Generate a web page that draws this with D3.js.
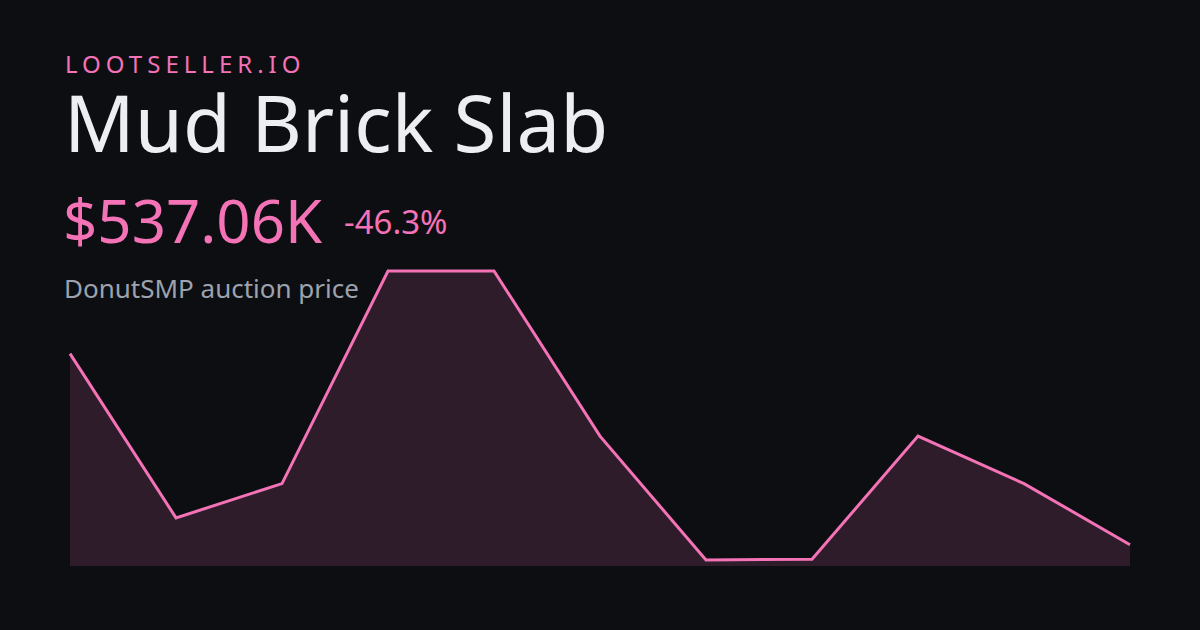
<!DOCTYPE html>
<html><head><meta charset="utf-8">
<script src="https://cdn.jsdelivr.net/npm/d3@7"></script>
<style>html,body{margin:0;padding:0;background:#0d0e12;}svg{display:block;}</style>
</head><body>
<svg id="c" width="1200" height="630"></svg>
<script>
const brand = "LOOTSELLER.IO";
const itemName = "Mud Brick Slab";
const priceLabel = "$537.06K";
const changeLabel = "-46.3%";
const subtitle = "DonutSMP auction price";
const days = [0,1,2,3,4,5,6,7,8,9,10];
const prices = [1000, 602, 685, 1200, 1200, 800, 500, 502, 800, 685, 537.06];

const svg = d3.select("#c");
const W = 1200, H = 630;
svg.append("rect").attr("width", W).attr("height", H).attr("fill", "#0d0e12");

const x = d3.scaleLinear().domain(d3.extent(days)).range([70, 1130]);
const y = d3.scaleLinear().domain([500, 1200]).range([560, 271]);
const base = 566;
const data = days.map((d, i) => ({d, v: prices[i]}));

svg.append("path").datum(data)
  .attr("d", d3.area().x(p => x(p.d)).y0(base).y1(p => y(p.v)))
  .attr("fill", "#f472b6").attr("fill-opacity", 0.15);
svg.append("path").datum(data)
  .attr("d", d3.line().x(p => x(p.d)).y(p => y(p.v)))
  .attr("fill", "none").attr("stroke", "#f472b6").attr("stroke-width", 3)
  .attr("stroke-linejoin", "miter");

const font = "'Noto Sans', 'Open Sans', sans-serif";
svg.append("text").attr("x", 65).attr("y", 73).text(brand)
  .attr("font-family", font).attr("font-size", 24).attr("letter-spacing", 5)
  .attr("fill", "#f472b6");
svg.append("text").attr("x", 64).attr("y", 152).text(itemName)
  .attr("font-family", font).attr("font-size", 78).attr("fill", "#eceef2");
svg.append("text").attr("x", 63).attr("y", 243).text(priceLabel)
  .attr("font-family", font).attr("font-size", 60).attr("fill", "#f472b6");
svg.append("text").attr("x", 344).attr("y", 234).text(changeLabel)
  .attr("font-family", font).attr("font-size", 33).attr("fill", "#f472b6");
svg.append("text").attr("x", 64).attr("y", 298).text(subtitle)
  .attr("font-family", font).attr("font-size", 26).attr("fill", "#9ca3af");
</script>
</body></html>
